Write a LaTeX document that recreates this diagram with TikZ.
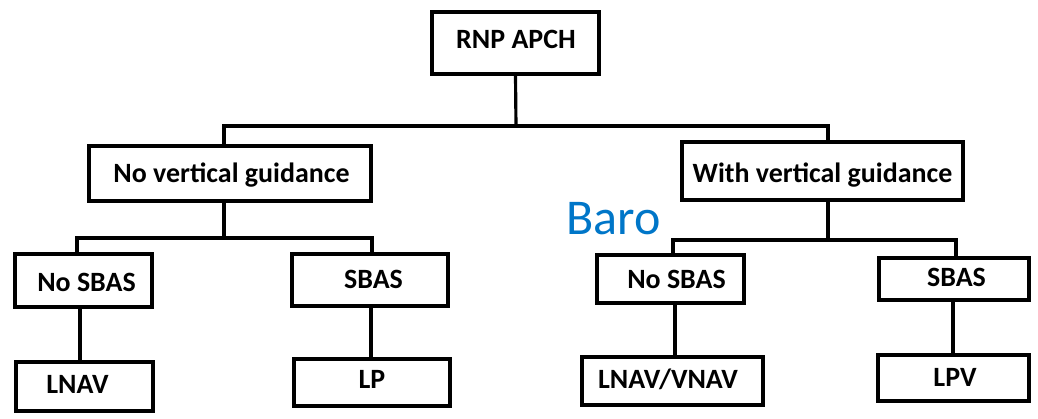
\documentclass[tikz,border=0pt]{standalone}
\usepackage{fontspec}
\setmainfont{Carlito}
\definecolor{barob}{RGB}{0,118,200}
\begin{document}
\begin{tikzpicture}[x=0.02cm,y=-0.02cm,
  box/.style={draw=black, line width=2.3pt, rectangle, inner sep=0pt},
  lbl/.style={anchor=base, inner sep=0pt, font=\fontsize{15.9}{18}\selectfont\bfseries},
  conn/.style={draw=black, line width=1.8pt}]
\useasboundingbox (0,0) rectangle (1038,419);

% boxes (centres and sizes in pixels)
\node[box, minimum width=167*0.02cm, minimum height=62*0.02cm] (root)  at (515.5,43)  {};
\node[box, minimum width=282*0.02cm, minimum height=55*0.02cm] (nvg)   at (230,173.5) {};
\node[box, minimum width=281*0.02cm, minimum height=58*0.02cm] (wvg)   at (822.5,171) {};
\node[box, minimum width=137*0.02cm, minimum height=53*0.02cm] (ns1)   at (83.5,280.5) {};
\node[box, minimum width=156*0.02cm, minimum height=52*0.02cm] (sb1)   at (370,280)   {};
\node[box, minimum width=137*0.02cm, minimum height=49*0.02cm] (lnav)  at (84.5,386.5) {};
\node[box, minimum width=156*0.02cm, minimum height=47*0.02cm] (lp)    at (372,382.5) {};
\node[box, minimum width=147*0.02cm, minimum height=48*0.02cm] (ns2)   at (670.5,279) {};
\node[box, minimum width=150*0.02cm, minimum height=42*0.02cm] (sb2)   at (954,279)   {};
\node[box, minimum width=181*0.02cm, minimum height=48*0.02cm] (lnvv)  at (672.5,381) {};
\node[box, minimum width=151*0.02cm, minimum height=46*0.02cm] (lpv)   at (953.5,378) {};

% box labels
\node[lbl] (troot) at (516,49)  {RNP APCH};
\node[lbl] (tnvg)  at (231.5,182) {No vertical guidance};
\node[lbl] (twvg)  at (822.5,182) {With vertical guidance};
\node[lbl] (tns1)  at (86.5,291) {No SBAS};
\node[lbl] (tsb1)  at (373.5,288) {SBAS};
\node[lbl] (tlnav) at (77.5,393) {LNAV};
\node[lbl] (tlp)   at (372,388) {LP};
\node[lbl] (tns2)  at (676.5,288) {No SBAS};
\node[lbl] (tsb2)  at (956.5,286) {SBAS};
\node[lbl] (tlnvv) at (668,388) {LNAV/VNAV};
\node[lbl] (tlpv)  at (955,386) {LPV};

% free label
\node[anchor=base west, inner sep=0pt, text=barob,
      font=\fontsize{28.5}{32}\selectfont] (baro) at (566,234) {Baro};

% junction points of the tree
\coordinate (j0)  at (516,126);
\coordinate (j0l) at (224,126);
\coordinate (j0r) at (828,126);
\coordinate (j1)  at (224,238);
\coordinate (j1l) at (77,238);
\coordinate (j1r) at (372,238);
\coordinate (j2)  at (828,240);
\coordinate (j2l) at (673,240);
\coordinate (j2r) at (956,240);

% connectors
\draw[conn] (root.south) -- (j0);
\draw[conn] (j0l |- nvg.north) -- (j0l) -- (j0r) -- (j0r |- wvg.north);
\draw[conn] (j1 |- nvg.south) -- (j1);
\draw[conn] (j1l |- ns1.north) -- (j1l) -- (j1r) -- (j1r |- sb1.north);
\draw[conn] (j2 |- wvg.south) -- (j2);
\draw[conn] (j2l |- ns2.north) -- (j2l) -- (j2r) -- (j2r |- sb2.north);
\draw[conn] (80,0 |- ns1.south) -- (80,0 |- lnav.north);
\draw[conn] (371,0 |- sb1.south) -- (371,0 |- lp.north);
\draw[conn] (675,0 |- ns2.south) -- (675,0 |- lnvv.north);
\draw[conn] (953,0 |- sb2.south) -- (953,0 |- lpv.north);
\end{tikzpicture}
\end{document}
